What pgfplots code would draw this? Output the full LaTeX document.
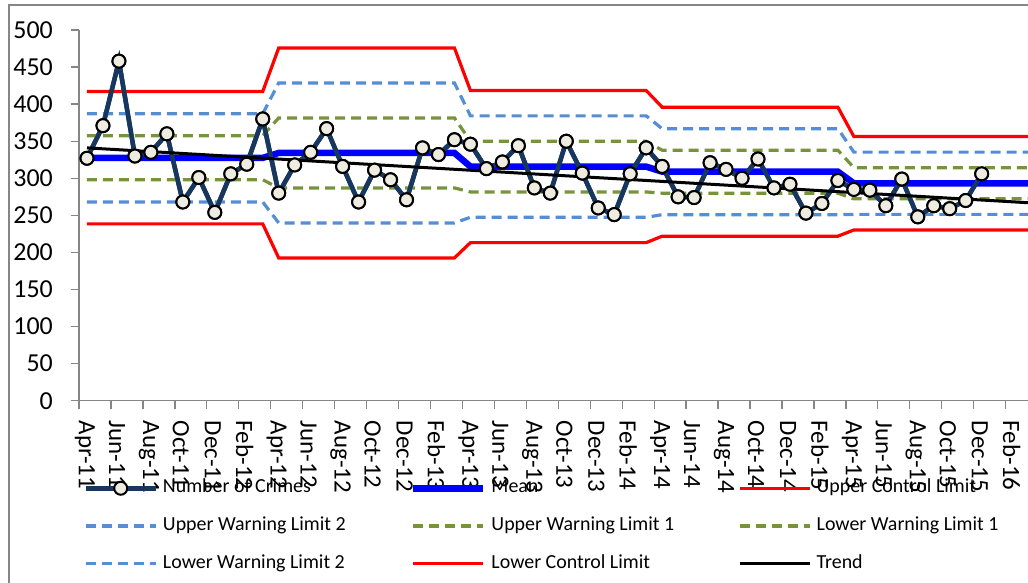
\documentclass[border=0pt]{standalone}
\usepackage{pgfplots}
\usepackage{pgfplotstable}
\pgfplotsset{compat=1.18}
\usepackage{fontspec}
\setmainfont{Carlito}
\definecolor{navy}{HTML}{17375E}
\definecolor{wltwo}{HTML}{558ED5}
\definecolor{wlone}{HTML}{77933C}
\definecolor{axgray}{HTML}{868686}
\definecolor{mfill}{HTML}{EEECE1}

\pgfplotstableread{
x y
0 327
1 371
2 458
3 330
4 335
5 360
6 268
7 301
8 254
9 306
10 319
11 380
12 280
13 318
14 335
15 367
16 316
17 268
18 311
19 298
20 271
21 341
22 332
23 352
24 346
25 313
26 322
27 344
28 287
29 280
30 350
31 307
32 260
33 251
34 306
35 341
36 316
37 275
38 274
39 321
40 312
41 300
42 326
43 287
44 292
45 253
46 266
47 297
48 285
49 284
50 263
51 299
52 248
53 263
54 259
55 270
56 306
}\crimes

\pgfplotstableread{
x mean ucl uwltwo uwlone lwlone lwltwo lcl
0 327.5 417 387 357.5 298 268 238.5
11 327.5 417 387 357.5 298 268 238.5
12 334.2 475.8 428.6 381.4 287 239.8 192.6
23 334.2 475.8 428.6 381.4 287 239.8 192.6
24 315.75 418.4 384.2 350 281.6 247.4 213.2
35 315.75 418.4 384.2 350 281.6 247.4 213.2
36 308.9 395.9 366.9 337.9 279.9 250.9 221.9
47 308.9 395.9 366.9 337.9 279.9 250.9 221.9
48 293.25 356.3 335.3 314.3 272.3 251.3 230.3
59 293.25 356.3 335.3 314.3 272.3 251.3 230.3
}\limitstab

\pgfplotstableread{
x y
0 341
59 266.9
}\trendtab

\begin{document}
\begin{tikzpicture}
\useasboundingbox (-79bp,-182.3bp) rectangle (949bp,400.7bp);
\draw[axgray, line width=1.3bp] (-70bp,-200bp) rectangle (970bp,395.7bp);
\begin{axis}[
  at={(0,0)}, anchor=south west,
  scale only axis, width=949bp, height=370.7bp,
  xmin=-0.5, xmax=58.9, ymin=0, ymax=500,
  axis lines*=left,
  axis line style={axgray, line width=1.3bp},
  tick align=outside, major tick length=8bp,
  tick style={axgray, line width=1.3bp},
  ytick={0,50,...,500},
  xtick={-0.5,1.5,...,57.5},
  xticklabels={Apr-11,Jun-11,Aug-11,Oct-11,Dec-11,Feb-12,Apr-12,Jun-12,Aug-12,Oct-12,Dec-12,Feb-13,Apr-13,Jun-13,Aug-13,Oct-13,Dec-13,Feb-14,Apr-14,Jun-14,Aug-14,Oct-14,Dec-14,Feb-15,Apr-15,Jun-15,Aug-15,Oct-15,Dec-15,Feb-16},
  /pgf/number format/assume math mode=true,
  yticklabel style={font=\fontsize{26}{26}\selectfont, anchor=east, inner sep=0pt, xshift=-18bp, black},
  xticklabel style={font=\fontsize{25}{25}\selectfont, rotate=-90, anchor=west, inner xsep=8bp, inner ysep=0pt, xshift=4bp, yshift=6bp, black},
  legend columns=3,
  legend cell align=left,
  legend style={at={(axis description cs:0.0045,-0.21)}, anchor=north west,
    draw=none, fill=none, inner sep=0pt, row sep=18.7bp,
    nodes={inner sep=0pt, text height=14bp, text depth=5bp, font=\fontsize{20}{20}\selectfont},
    /tikz/every odd column/.append style={column sep=5bp},
    /tikz/every even column/.append style={column sep=0bp}},
  legend image code/.code={\draw[#1, mark repeat=2, mark phase=2] plot coordinates {(0bp,0bp) (35bp,0bp) (70bp,0bp)};},
]
\addplot[navy, line width=4.5bp, mark=*, mark size=6.5bp, mark options={fill=mfill, draw=black, line width=2bp, solid}] table[x=x,y=y] {\crimes};
\addlegendentry{\makebox[247bp][l]{Number of Crimes}}
\addplot[blue, line width=6.5bp] table[x=x,y=mean] {\limitstab};
\addlegendentry{\makebox[247bp][l]{Mean}}
\addplot[red, line width=3.2bp] table[x=x,y=ucl] {\limitstab};
\addlegendentry{\makebox[247bp][l]{Upper Control Limit}}
\addplot[wltwo, line width=3.2bp, dash pattern=on 10bp off 6bp] table[x=x,y=uwltwo] {\limitstab};
\addlegendentry{\makebox[247bp][l]{Upper Warning Limit 2}}
\addplot[wlone, line width=3.2bp, dash pattern=on 10bp off 6bp] table[x=x,y=uwlone] {\limitstab};
\addlegendentry{\makebox[247bp][l]{Upper Warning Limit 1}}
\addplot[wlone, line width=3.2bp, dash pattern=on 10bp off 6bp] table[x=x,y=lwlone] {\limitstab};
\addlegendentry{\makebox[247bp][l]{Lower Warning Limit 1}}
\addplot[wltwo, line width=3.2bp, dash pattern=on 10bp off 6bp] table[x=x,y=lwltwo] {\limitstab};
\addlegendentry{\makebox[247bp][l]{Lower Warning Limit 2}}
\addplot[red, line width=3.2bp] table[x=x,y=lcl] {\limitstab};
\addlegendentry{\makebox[247bp][l]{Lower Control Limit}}
\addplot[navy, line width=4.5bp, mark=*, mark size=6.5bp, mark options={fill=mfill, draw=black, line width=2bp, solid}, forget plot] table[x=x,y=y] {\crimes};
\addplot[black, line width=3bp] table[x=x,y=y] {\trendtab};
\addlegendentry{\makebox[247bp][l]{Trend}}
\end{axis}
\end{tikzpicture}
\end{document}
